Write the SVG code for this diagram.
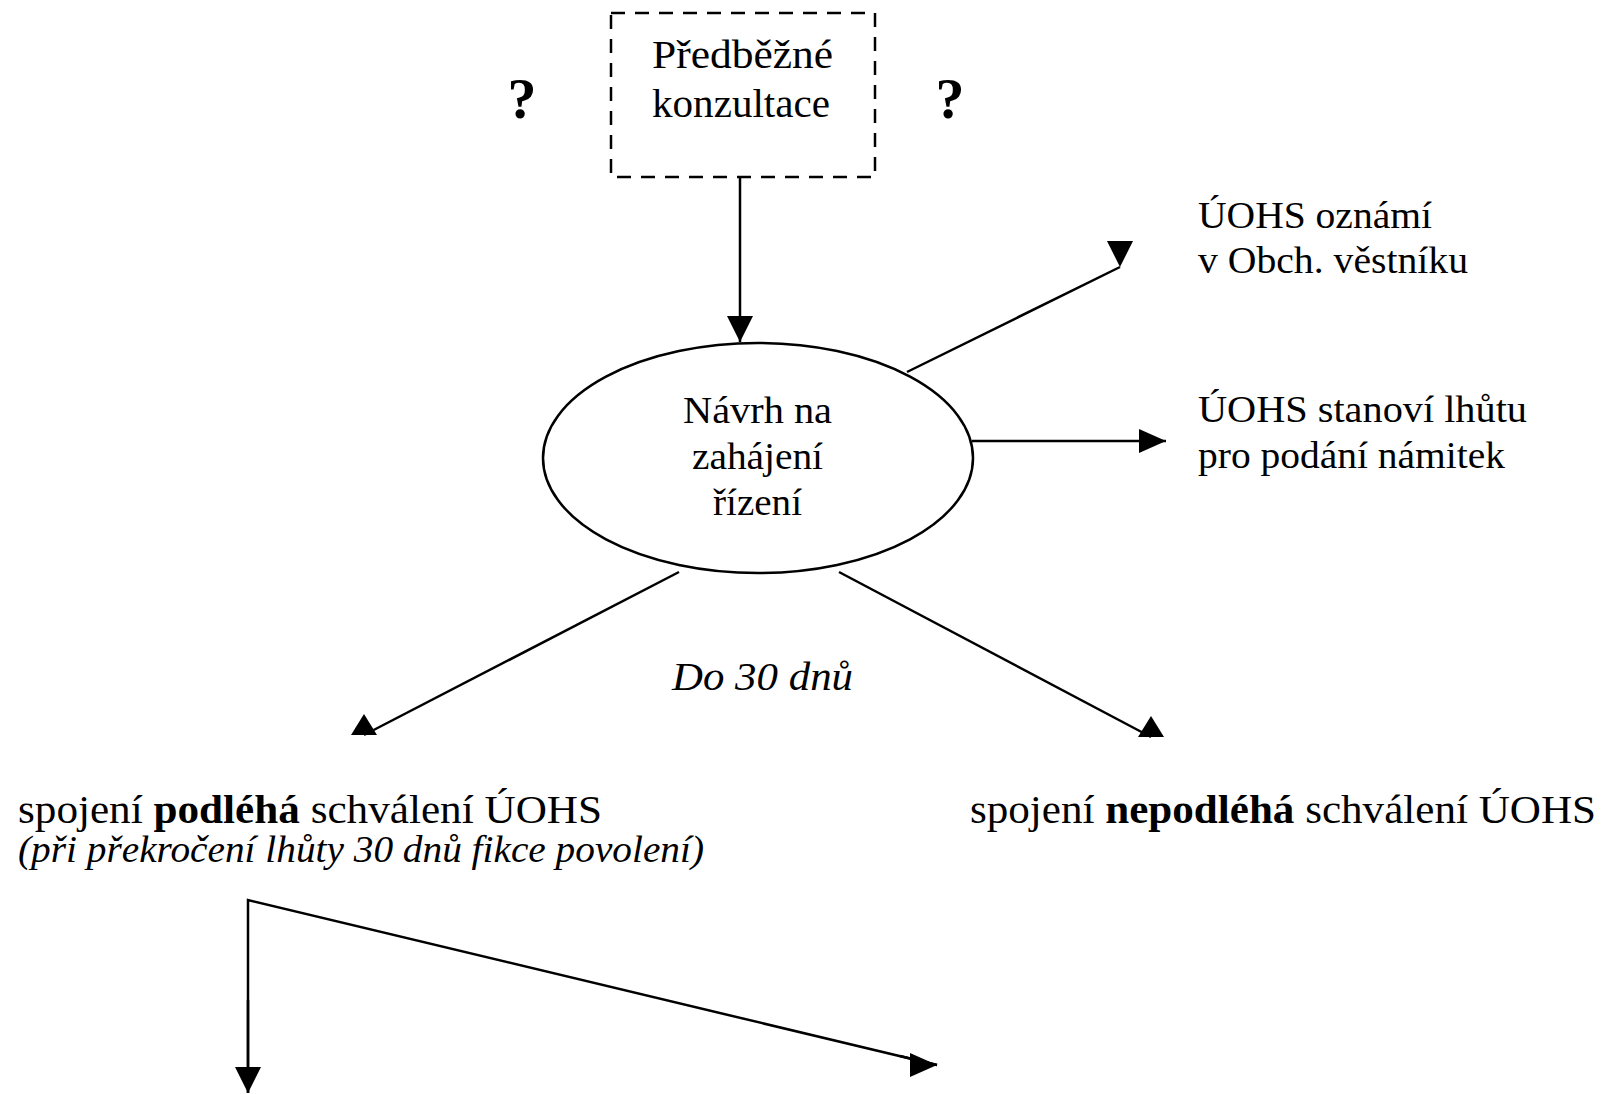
<svg xmlns="http://www.w3.org/2000/svg" width="1608" height="1094" viewBox="0 0 1608 1094">
  <style>
    text { font-family: 'Liberation Serif', 'DejaVu Serif', serif; fill: #000; }
    .box { fill: none; stroke: #000; stroke-width: 2.5; stroke-dasharray: 14 10; }
    .ell { fill: none; stroke: #000; stroke-width: 2.5; }
    .ln { fill: none; stroke: #000; stroke-width: 2.5; }
  </style>
  <defs>
    <marker id="triDown" markerUnits="userSpaceOnUse" markerWidth="40" markerHeight="40" viewBox="-20 -30 40 40" refX="0" refY="0" orient="0" overflow="visible">
      <path d="M-13,-26 L13,-26 L0,0 Z" fill="#000"/>
    </marker>
    <marker id="triUp" markerUnits="userSpaceOnUse" markerWidth="40" markerHeight="40" viewBox="-20 -30 40 40" refX="0" refY="0" orient="0" overflow="visible">
      <path d="M-13,0 L13,0 L0,-21 Z" fill="#000"/>
    </marker>
    <marker id="triRight" markerUnits="userSpaceOnUse" markerWidth="40" markerHeight="40" viewBox="-30 -20 40 40" refX="0" refY="0" orient="0" overflow="visible">
      <path d="M-27,-12 L0,0 L-27,12 Z" fill="#000"/>
    </marker>
  </defs>
  <rect width="1608" height="1094" fill="#fff"/>

  <g id="connectors">
    <line class="ln" x1="740" y1="177" x2="740" y2="342" marker-end="url(#triDown)"/>
    <line class="ln" x1="907" y1="372" x2="1120" y2="267" marker-end="url(#triDown)"/>
    <line class="ln" x1="972" y1="441" x2="1166" y2="441" marker-end="url(#triRight)"/>
    <line class="ln" x1="679" y1="572" x2="364" y2="735" marker-end="url(#triUp)"/>
    <line class="ln" x1="839" y1="572" x2="1151" y2="737" marker-end="url(#triUp)"/>
    <polyline class="ln" points="248,1093 248,900 937,1065"/>
    <line class="ln" x1="248" y1="1000" x2="248" y2="1093" marker-end="url(#triDown)"/>
    <line class="ln" x1="900" y1="1056" x2="937" y2="1065" marker-end="url(#triRight)"/>
  </g>

  <g id="q-left">
    <text x="522" y="118" font-size="58" font-weight="bold" text-anchor="middle">?</text>
  </g>
  <g id="q-right">
    <text x="950" y="118" font-size="58" font-weight="bold" text-anchor="middle">?</text>
  </g>

  <g id="predbezne-konzultace">
    <rect class="box" x="611" y="13" width="264" height="164"/>
    <text x="652" y="68" font-size="40" textLength="181" lengthAdjust="spacingAndGlyphs">Předběžné</text>
    <text x="652" y="117" font-size="40" textLength="178" lengthAdjust="spacingAndGlyphs">konzultace</text>
  </g>

  <g id="navrh">
    <ellipse class="ell" cx="758" cy="458" rx="215" ry="115"/>
    <text x="683" y="423" font-size="38" textLength="149" lengthAdjust="spacingAndGlyphs">Návrh na</text>
    <text x="692" y="469" font-size="38" textLength="131" lengthAdjust="spacingAndGlyphs">zahájení</text>
    <text x="713" y="515" font-size="38" textLength="89" lengthAdjust="spacingAndGlyphs">řízení</text>
  </g>

  <g id="oznami">
    <text x="1198" y="228" font-size="38" textLength="234" lengthAdjust="spacingAndGlyphs">ÚOHS oznámí</text>
    <text x="1198" y="273" font-size="38" textLength="270" lengthAdjust="spacingAndGlyphs">v Obch. věstníku</text>
  </g>

  <g id="stanovi">
    <text x="1198" y="422" font-size="38" textLength="329" lengthAdjust="spacingAndGlyphs">ÚOHS stanoví lhůtu</text>
    <text x="1198" y="468" font-size="38" textLength="307" lengthAdjust="spacingAndGlyphs">pro podání námitek</text>
  </g>

  <g id="do30">
    <text x="672" y="690" font-size="40" font-style="italic" textLength="181" lengthAdjust="spacingAndGlyphs">Do 30 dnů</text>
  </g>

  <g id="podleha">
    <text x="18" y="823" font-size="40" textLength="584" lengthAdjust="spacingAndGlyphs">spojení <tspan font-weight="bold">podléhá</tspan> schválení ÚOHS</text>
    <text x="18" y="862" font-size="38" font-style="italic" textLength="686" lengthAdjust="spacingAndGlyphs">(při překročení lhůty 30 dnů fikce povolení)</text>
  </g>

  <g id="nepodleha">
    <text x="970" y="823" font-size="40" textLength="626" lengthAdjust="spacingAndGlyphs">spojení <tspan font-weight="bold">nepodléhá</tspan> schválení ÚOHS</text>
  </g>
</svg>
